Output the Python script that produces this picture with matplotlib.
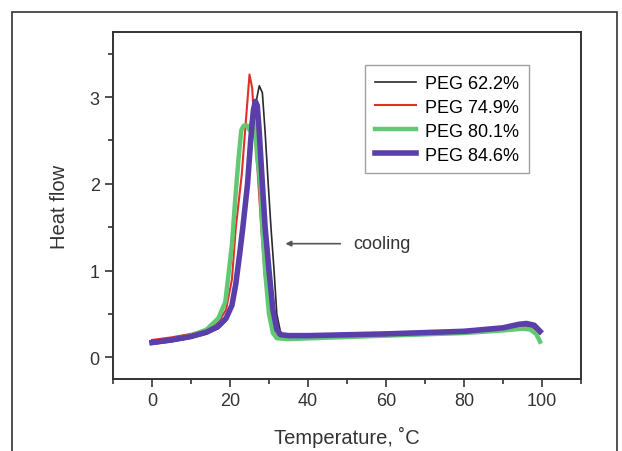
import numpy as np
import matplotlib.pyplot as plt
from matplotlib.patches import Rectangle

plt.rcParams['font.family'] = ['Liberation Sans', 'DejaVu Sans']

# curves (temperature C, heat flow)
t_622 = [0, 5, 10, 14, 17, 19, 21, 22.5, 24, 25.5, 26.5, 27.5, 28.3, 29, 29.8, 30.5, 31.3, 32, 33, 34, 40, 60, 80, 90, 95, 98, 99.5]
h_622 = [0.15, 0.18, 0.22, 0.27, 0.33, 0.42, 0.65, 1.1, 1.7, 2.4, 2.9, 3.13, 3.05, 2.6, 2.0, 1.5, 1.0, 0.5, 0.28, 0.24, 0.24, 0.27, 0.3, 0.33, 0.37, 0.35, 0.28]

t_749 = [0, 5, 10, 14, 17, 19, 20.5, 21.5, 23, 24.2, 25, 25.7, 26.2, 27, 28, 29, 30, 31, 32, 40, 60, 80, 90, 95, 98, 99.5]
h_749 = [0.2, 0.23, 0.27, 0.32, 0.4, 0.55, 0.9, 1.5, 2.1, 2.8, 3.26, 3.1, 2.7, 2.2, 1.5, 0.9, 0.5, 0.3, 0.25, 0.24, 0.26, 0.29, 0.32, 0.35, 0.33, 0.27]

t_801 = [0, 5, 10, 14, 17, 18.8, 20.5, 21.3, 22.2, 22.9, 23.5, 24.4, 25, 25.8, 26.5, 27, 27.8, 28.3, 29, 30, 31, 32, 35, 60, 80, 90, 95, 97, 98.5, 99.5]
h_801 = [0.17, 0.2, 0.25, 0.32, 0.45, 0.64, 1.3, 1.8, 2.3, 2.62, 2.67, 2.67, 2.62, 2.75, 2.6, 2.3, 2.0, 1.5, 1.0, 0.5, 0.28, 0.22, 0.21, 0.25, 0.28, 0.31, 0.33, 0.32, 0.27, 0.18]

t_846 = [0, 5, 10, 14, 17, 19, 20.5, 21.5, 22.5, 23.3, 24.5, 25.3, 26, 26.5, 27, 27.5, 28.3, 29, 30, 31, 32, 33, 35, 40, 60, 80, 90, 94, 96, 98, 99.5]
h_846 = [0.17, 0.2, 0.24, 0.29, 0.36, 0.45, 0.6, 0.85, 1.2, 1.5, 2.0, 2.5, 2.85, 2.95, 2.9, 2.6, 2.0, 1.5, 1.0, 0.55, 0.32, 0.26, 0.25, 0.25, 0.27, 0.3, 0.34, 0.38, 0.39, 0.37, 0.3]

labels = ['PEG 62.2%', 'PEG 74.9%', 'PEG 80.1%', 'PEG 84.6%']

fig = plt.figure(figsize=(6.22, 4.52), dpi=100)
ax = fig.add_axes([113/622, 1-380/452, (581-113)/622, (380-33)/452])

ax.plot(t_622, h_622, color='#2a2a2a', lw=1.2, label=labels[0])
ax.plot(t_749, h_749, color='#e0302a', lw=1.5, label=labels[1])
ax.plot(t_801, h_801, color='#62c873', lw=3.2, label=labels[2])
ax.plot(t_846, h_846, color='#5a3eaa', lw=4.0, label=labels[3])

ax.set_xlim(-10, 110)
ax.set_ylim(-0.25, 3.75)
ax.set_xticks(range(0, 101, 20))
ax.set_xticks(range(-10, 111, 10), minor=True)
ax.set_yticks([0, 1, 2, 3])
ax.set_yticks(np.arange(0, 3.6, 0.5), minor=True)
ax.tick_params(which='both', direction='out', colors='#333333', labelsize=13, width=1.2)
ax.tick_params(which='major', length=6)
ax.tick_params(which='minor', length=3.5)
for s in ax.spines.values():
    s.set_linewidth(1.4)
    s.set_color('#333333')

ax.set_xlabel('Temperature, ˚C', fontsize=14.5, color='#333333', labelpad=12)
ax.set_ylabel('Heat flow', fontsize=14.5, color='#333333', labelpad=15)

leg = ax.legend(loc='upper left', bbox_to_anchor=((365-113)/468, 1-(66-33)/347), fontsize=13,
                frameon=True, fancybox=False, handlelength=2.3, labelspacing=0.38,
                borderpad=0.55, handletextpad=0.5, borderaxespad=0)
leg.get_frame().set_edgecolor('#888888')
leg.get_frame().set_linewidth(1.0)

ax.annotate('', xy=(33.5, 1.31), xytext=(49, 1.31),
            arrowprops=dict(arrowstyle='-|>', color='#555555', lw=1.2, mutation_scale=8))
ax.text(51.5, 1.31, 'cooling', fontsize=13, color='#333333', va='center')

# outer frame around the figure
fig.add_artist(Rectangle((12/622, -0.05), (617-12)/622, 1.05 - 13/452,
                         transform=fig.transFigure, fill=False, lw=1.2, ec='#333333'))

fig.savefig('out.png', dpi=100)
